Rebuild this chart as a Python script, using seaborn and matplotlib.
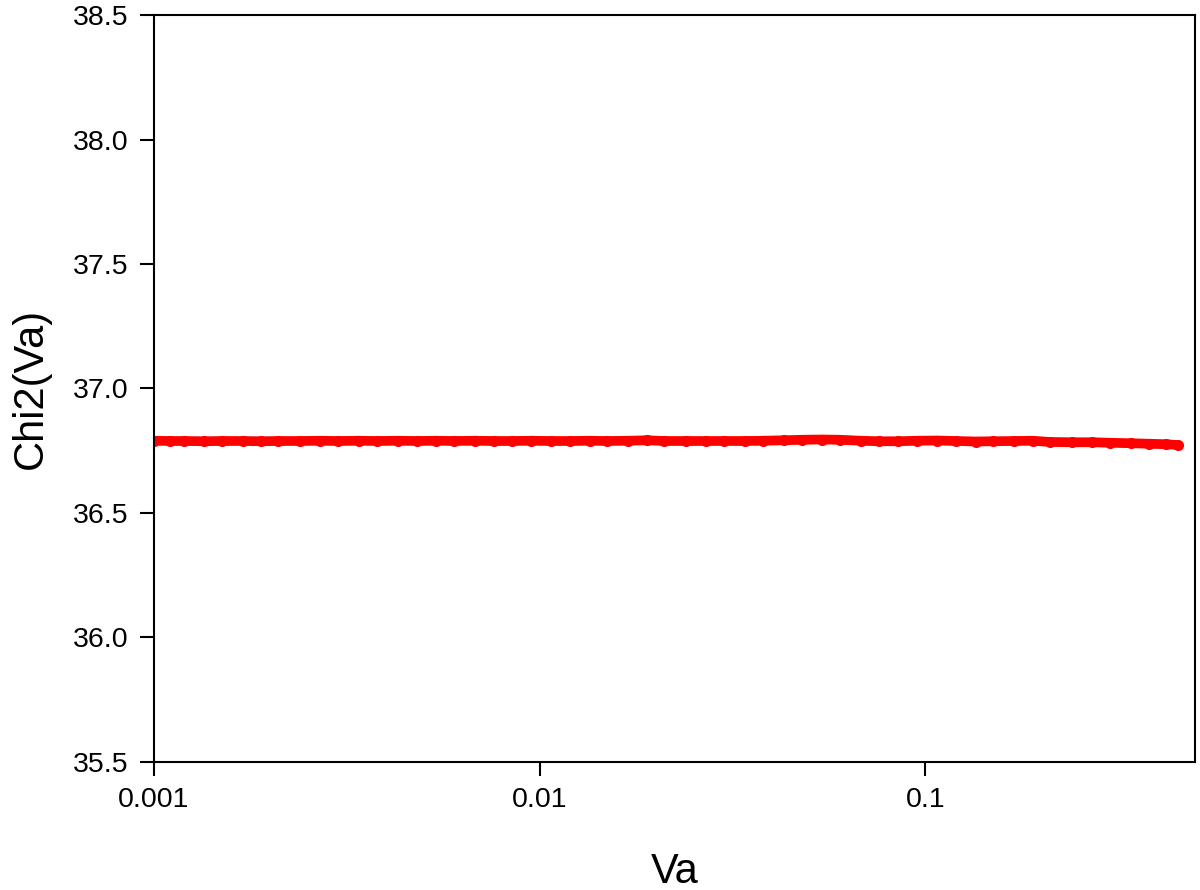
import numpy as np
import pandas as pd
import seaborn as sns
import matplotlib
matplotlib.use("Agg")
import matplotlib.pyplot as plt
from matplotlib.ticker import FixedLocator, FixedFormatter, NullLocator

# Chi2 values ################################################################

va = [0.001, 0.0011, 0.0012, 0.00135, 0.0015, 0.0017, 0.0019, 0.0021, 0.0024,
      0.0027, 0.003, 0.0034, 0.0038, 0.0043, 0.0048, 0.0054, 0.006, 0.0068,
      0.0076, 0.0085, 0.0095, 0.0107, 0.012, 0.0135, 0.015, 0.017, 0.019,
      0.021, 0.024, 0.027, 0.03, 0.034, 0.038, 0.043, 0.048, 0.054, 0.06,
      0.068, 0.076, 0.085, 0.095, 0.107, 0.12, 0.135, 0.15, 0.17, 0.19,
      0.21, 0.24, 0.27, 0.3, 0.34, 0.38, 0.42, 0.45]
chi2 = [36.790, 36.789, 36.789, 36.788, 36.789, 36.789, 36.788, 36.789, 36.789,
        36.790, 36.789, 36.790, 36.789, 36.790, 36.789, 36.790, 36.789, 36.790,
        36.789, 36.789, 36.790, 36.789, 36.789, 36.790, 36.789, 36.790, 36.792,
        36.789, 36.789, 36.789, 36.789, 36.789, 36.790, 36.792, 36.794, 36.795,
        36.794, 36.790, 36.788, 36.788, 36.790, 36.791, 36.789, 36.787, 36.788,
        36.789, 36.790, 36.785, 36.784, 36.784, 36.782, 36.780, 36.778, 36.776,
        36.773]

x_ticks = [0.001, 0.01, 0.1]
x_labels = ["0.001", "0.01", "0.1"]
y_ticks = [35.5, 36.0, 36.5, 37.0, 37.5, 38.0, 38.5]

df = pd.DataFrame({"Va": va, "Chi2": chi2})

# Plot #######################################################################

sns.set_style("ticks")
plt.rcParams["font.family"] = ["Liberation Sans", "DejaVu Sans"]

fig = plt.figure(figsize=(12, 8.9), dpi=100)
ax = fig.add_axes([0.128, 0.144, 0.868, 0.839])

sns.lineplot(data=df, x="Va", y="Chi2", color="#ff0000", linewidth=7,
             marker="o", markersize=8, markeredgewidth=0, ax=ax)

ax.set_xscale("log")
ax.set_xlim(0.001, 0.5)
ax.set_ylim(35.5, 38.5)
ax.xaxis.set_major_locator(FixedLocator(x_ticks))
ax.xaxis.set_major_formatter(FixedFormatter(x_labels))
ax.xaxis.set_minor_locator(NullLocator())
ax.set_yticks(y_ticks)
ax.set_yticklabels([f"{v:.1f}" for v in y_ticks])

for s in ax.spines.values():
    s.set_linewidth(1.5)
    s.set_color("black")
ax.tick_params(axis="both", direction="out", length=10, width=1.5,
               labelsize=20.5, pad=8, colors="black")

ax.set_xlabel("Va", fontsize=30, labelpad=28, color="black")
ax.set_ylabel("Chi2(Va)", fontsize=30, labelpad=16, color="black")

fig.savefig("out.png", dpi=100)
